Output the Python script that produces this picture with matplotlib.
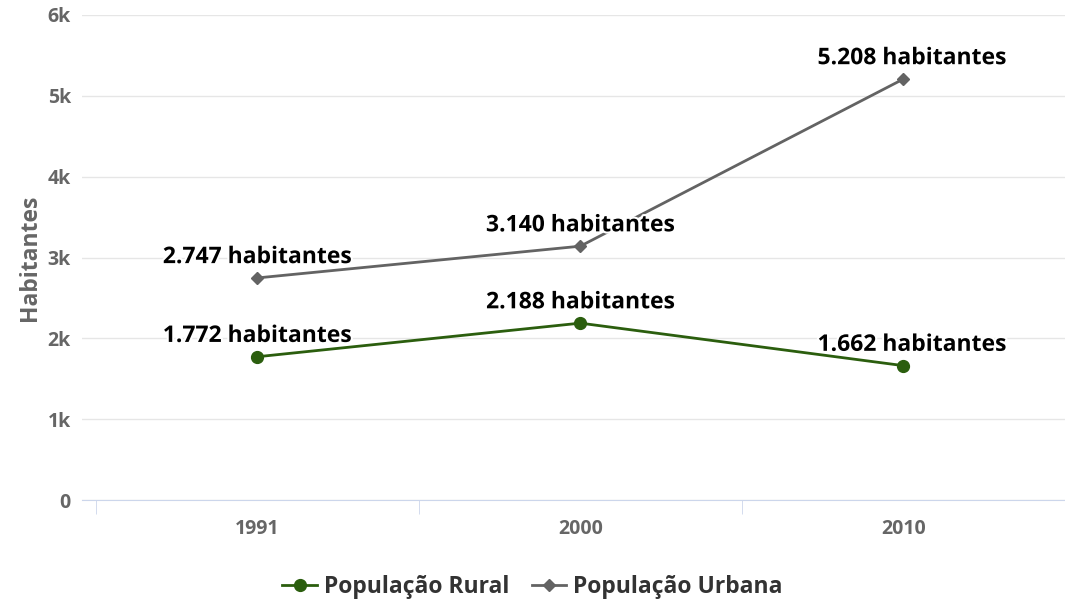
import matplotlib.pyplot as plt
from matplotlib import patheffects

anos = ["1991", "2000", "2010"]
rural = [1772, 2188, 1662]
urbana = [2747, 3140, 5208]
yticks = [0, 1000, 2000, 3000, 4000, 5000, 6000]
ytick_labels = ["0", "1k", "2k", "3k", "4k", "5k", "6k"]

def fmt(v):
    return f"{v:,}".replace(",", ".") + " habitantes"

plt.rcParams['font.family'] = ['Open Sans', 'DejaVu Sans']

W, H = 1065, 603
fig = plt.figure(figsize=(W / 100, H / 100), dpi=100)
ax = fig.add_axes([82 / W, 1 - 500 / H, (W - 82) / W, (500 - 15) / H])

x = list(range(len(anos)))
rural_col = "#2b5e0e"
urb_col = "#636363"

ax.plot(x, urbana, color=urb_col, lw=2, marker="D", ms=6, zorder=3,
        label="População Urbana")
ax.plot(x, rural, color=rural_col, lw=2, marker="o", ms=8.5, zorder=3,
        label="População Rural")

halo = [patheffects.withStroke(linewidth=3, foreground="white")]
for serie in (urbana, rural):
    for i, v in enumerate(serie):
        dx = 6 if i == 2 else 0
        ax.annotate(fmt(v), (i, v), xytext=(dx, 15), textcoords="offset points",
                    ha="center", va="center", fontsize=16.5, fontweight="bold",
                    color="black", path_effects=halo, zorder=4)

ax.set_xlim(-0.542, 2.487)
ax.set_ylim(0, 6000)
ax.set_yticks(yticks)
ax.set_yticklabels(ytick_labels)
ax.set_xticks(x)
ax.set_xticklabels(anos)
ax.set_xticks([-0.5, 0.5, 1.5, 2.5], minor=True)

ax.grid(axis="y", color="#e6e6e6", lw=1)
ax.set_axisbelow(True)
for s in ("top", "right", "left"):
    ax.spines[s].set_visible(False)
ax.spines["bottom"].set_color("#ccd6eb")
ax.tick_params(axis="y", length=0, pad=8, labelsize=14, labelcolor="#666666")
ax.tick_params(axis="x", which="major", length=0, pad=14, labelsize=14,
               labelcolor="#666666")
ax.tick_params(axis="x", which="minor", length=10, color="#ccd6eb")
for lab in ax.get_xticklabels() + ax.get_yticklabels():
    lab.set_fontweight("bold")

ax.set_ylabel("Habitantes", fontsize=16.5, fontweight="bold", color="#666666",
              labelpad=4)

handles, labels = ax.get_legend_handles_labels()
leg = fig.legend(handles[::-1], labels[::-1], loc="center", ncol=2,
                 bbox_to_anchor=(0.5, 1 - 587 / H), frameon=False,
                 fontsize=16.5, handlelength=1.5, columnspacing=1.0,
                 handletextpad=0.3)
for t in leg.get_texts():
    t.set_fontweight("bold")
    t.set_color("#333333")

fig.savefig("out.png", dpi=100)
